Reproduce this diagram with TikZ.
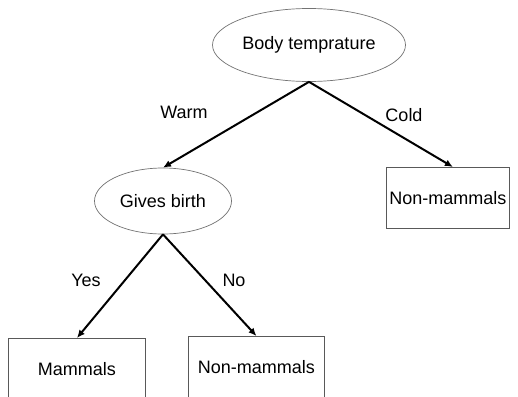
\documentclass[tikz,border=0pt]{standalone}
\usepackage{fontspec}
\setmainfont{Liberation Sans}
\usetikzlibrary{shapes.geometric,arrows.meta}
\begin{document}
\begin{tikzpicture}[x=1pt,y=-1pt,
  oval/.style={ellipse,draw=black!55,line width=0.7pt,inner sep=0pt,font=\fontsize{18}{21}\selectfont},
  leaf/.style={rectangle,draw=black!65,line width=0.9pt,inner sep=0pt,anchor=north west,font=\fontsize{18}{21}\selectfont},
  edge/.style={line width=2pt,-{Latex[length=8pt,width=7pt]}},
  lab/.style={font=\fontsize{18}{21}\selectfont}]
\clip (0,0) rectangle (518,396);
\fill[white] (0,0) rectangle (518,396);
\node[oval,minimum width=193pt,minimum height=73pt] (bt) at (309,45) {Body temprature};
\node[oval,minimum width=137pt,minimum height=66pt] (gb) at (163,201) {Gives birth};
\node[leaf,minimum width=123pt,minimum height=61pt] (nm1) at (386,167) {Non-mammals};
\node[leaf,minimum width=137pt,minimum height=61pt] (mm) at (8,338) {Mammals};
\node[leaf,minimum width=136pt,minimum height=61pt] (nm2) at (188,336) {Non-mammals};
\draw[edge] (bt.south) -- (gb.north);
\draw[edge] (bt.south) -- ([xshift=5pt]nm1.north);
\draw[edge] (gb.south) -- (mm.north);
\draw[edge] (gb.south) -- (nm2.north);
\node[lab] (lw) at (184,112) {Warm};
\node[lab] (lc) at (404,115) {Cold};
\node[lab] (ly) at (86,280) {Yes};
\node[lab] (ln) at (234,280) {No};
\end{tikzpicture}
\end{document}
